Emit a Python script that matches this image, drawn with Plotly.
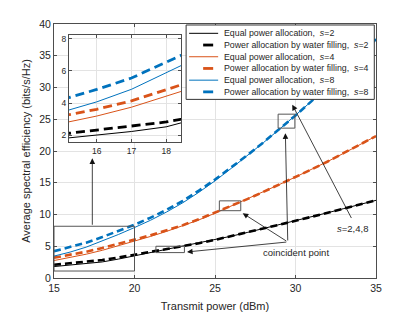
import plotly.graph_objects as go

power_dbm = list(range(15, 36))

s2_equal = [1.80, 2.02, 2.24, 2.53, 2.98, 3.50, 4.00, 4.50, 4.97, 5.47, 6.00,
            6.58, 7.17, 7.77, 8.38, 9.00, 9.64, 10.28, 10.93, 11.58, 12.23]
s2_water = [2.08, 2.32, 2.55, 2.83, 3.22, 3.65, 4.07, 4.52, 4.97, 5.47, 6.00,
            6.58, 7.17, 7.77, 8.38, 9.00, 9.64, 10.28, 10.93, 11.58, 12.23]
s4_equal = [2.75, 3.20, 3.75, 4.36, 5.05, 5.80, 6.55, 7.35, 8.20, 9.15, 10.20,
            11.30, 12.42, 13.56, 14.72, 15.90, 17.10, 18.35, 19.65, 21.00, 22.35]
s4_water = [3.20, 3.62, 4.14, 4.72, 5.35, 6.05, 6.75, 7.50, 8.32, 9.25, 10.27,
            11.32, 12.42, 13.56, 14.72, 15.90, 17.10, 18.35, 19.65, 21.00, 22.35]
s8_equal = [3.45, 4.08, 4.86, 5.80, 6.85, 7.95, 9.10, 10.40, 11.85, 13.50, 15.30,
            17.25, 19.25, 21.30, 23.42, 25.60, 27.85, 30.20, 32.60, 35.05, 37.60]
s8_water = [4.22, 4.85, 5.56, 6.45, 7.38, 8.38, 9.50, 10.75, 12.15, 13.75, 15.50,
            17.38, 19.32, 21.34, 23.44, 25.60, 27.85, 30.20, 32.60, 35.05, 37.60]

series = [
    ("Equal power allocation,", "2", s2_equal, "#000000", "solid"),
    ("Power allocation by water filling,", "2", s2_water, "#000000", "dash"),
    ("Equal power allocation,", "4", s4_equal, "#D95319", "solid"),
    ("Power allocation by water filling,", "4", s4_water, "#D95319", "dash"),
    ("Equal power allocation,", "8", s8_equal, "#0072BD", "solid"),
    ("Power allocation by water filling,", "8", s8_water, "#0072BD", "dash"),
]

main_xticks = [15, 20, 25, 30, 35]
main_yticks = [0, 5, 10, 15, 20, 25, 30, 35, 40]
inset_xticks = [16, 17, 18]
inset_yticks = [2, 4, 6, 8]

FONT = "Liberation Sans, Arial, Helvetica, sans-serif"
AX = "#4d4d4d"
GRID = "#e3e3e3"
TXT = "#262626"

fig = go.Figure()
for name, s, ys, col, dash in series:
    w = 1.0 if dash == "solid" else 2.6
    d = "solid" if dash == "solid" else "7px,4px"
    fig.add_trace(go.Scatter(x=power_dbm, y=ys, mode="lines", showlegend=False,
                             line=dict(color=col, width=w, dash=d),
                             xaxis="x", yaxis="y"))
for name, s, ys, col, dash in series:
    w = 1.0 if dash == "solid" else 2.8
    d = "solid" if dash == "solid" else "9px,5px"
    fig.add_trace(go.Scatter(x=power_dbm, y=ys, mode="lines", showlegend=False,
                             line=dict(color=col, width=w, dash=d),
                             xaxis="x2", yaxis="y2"))

axis_common = dict(showline=True, linecolor=AX, linewidth=1, mirror="ticks",
                   ticks="inside", ticklen=3, tickcolor=AX, showgrid=True,
                   gridcolor=GRID, gridwidth=1, zeroline=False, automargin=False)

fig.update_layout(
    width=415, height=312,
    margin=dict(l=54, r=39.3, t=24, b=34.3),
    paper_bgcolor="white", plot_bgcolor="white",
    font=dict(family=FONT, color=TXT, size=10.5),
    xaxis=dict(range=[15, 35], tickvals=main_xticks, domain=[0, 1],
               tickfont=dict(size=10.5),
               title=dict(text="Transmit power (dBm)", font=dict(size=11), standoff=9),
               **axis_common),
    yaxis=dict(range=[0, 40], tickvals=main_yticks, domain=[0, 1],
               tickfont=dict(size=10.5),
               title=dict(text="Average spectral efficiency (bits/s/Hz)", font=dict(size=11), standoff=6),
               **axis_common),
    xaxis2=dict(range=[15.2, 18.43], tickvals=inset_xticks, domain=[0.0466, 0.3948],
                anchor="y2", tickfont=dict(size=8.5), **axis_common),
    yaxis2=dict(range=[1.56, 8.23], tickvals=inset_yticks, domain=[0.5337, 0.9566],
                anchor="x2", tickfont=dict(size=8.5), **axis_common),
)

# zoom rectangles
rects = [(15, 20, 1.1, 8.15), (21.33, 23.1, 4.0, 5.0),
         (25.27, 26.6, 10.6, 12.15), (28.92, 29.96, 23.6, 25.8)]
for x0, x1, y0, y1 in rects:
    fig.add_shape(type="rect", xref="x", yref="y", x0=x0, x1=x1, y0=y0, y1=y1,
                  line=dict(color="#555555", width=1))

def arrow(tip, tail):
    fig.add_annotation(x=tip[0], y=tip[1], ax=tail[0], ay=tail[1], xref="x", yref="y",
                       axref="x", ayref="y", text="", showarrow=True, arrowhead=2,
                       arrowsize=1.4, arrowwidth=0.8, arrowcolor="#111111", standoff=0)

arrow((17.38, 18.85), (17.38, 8.15))
origin = (29.52, 5.68)
arrow((23.26, 4.1), origin)
arrow((26.72, 10.2), origin)
arrow((29.37, 22.8), origin)
arrow((29.8, 27.3), (33.52, 9.21))

fig.add_annotation(x=30.0, y=3.94, xref="x", yref="y", text="coincident point",
                   showarrow=False, font=dict(size=9.5, color=TXT))
fig.add_annotation(x=33.54, y=7.84, xref="x", yref="y", text="<i>s</i>=2,4,8",
                   showarrow=False, font=dict(size=9.5, color=TXT))

# legend (drawn manually to match compact row spacing)
fig.add_shape(type="rect", xref="paper", yref="paper", x0=0.4103, x1=0.9947,
              y0=0.7032, y1=0.9961, line=dict(color="#333333", width=1),
              fillcolor="white", layer="above")
row_top, row_step = 0.9633, 0.0461
for i, (name, s, ys, col, dash) in enumerate(series):
    yy = row_top - i * row_step
    if dash == "solid":
        fig.add_shape(type="line", xref="paper", yref="paper", x0=0.4196, x1=0.5098,
                      y0=yy, y1=yy, line=dict(color=col, width=1), layer="above")
    else:
        fig.add_shape(type="line", xref="paper", yref="paper", x0=0.4632, x1=0.4943,
                      y0=yy, y1=yy, line=dict(color=col, width=2.8), layer="above")
    fig.add_annotation(x=0.5213, y=yy, xref="paper", yref="paper", xanchor="left",
                       yanchor="middle", showarrow=False,
                       text=f"{name}\u00a0\u00a0<i>s</i>={s}",
                       font=dict(size=8.8, color=TXT))

fig.write_html("out.html", config={"displayModeBar": False},
               post_script="document.body.style.margin='0';document.body.style.overflow='hidden';")
